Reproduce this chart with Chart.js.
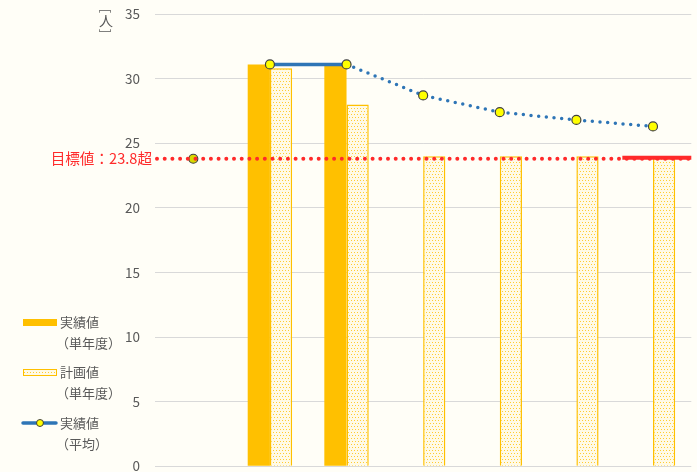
<!DOCTYPE html>
<html>
<head>
<meta charset="utf-8">
<script src="https://cdn.jsdelivr.net/npm/chart.js@4"></script>
<style>
  html, body { margin: 0; padding: 0; background: #FFFEF7; }
  #wrap { width: 697px; height: 472px; position: relative; }
</style>
</head>
<body>
<div id="wrap"><canvas id="chart"></canvas></div>
<script>
const CATEGORIES = ['基準', '1', '2', '3', '4', '5', '6'];
const ACTUAL = [null, 31.1, 31.1, null, null, null, null];
const PLAN = [null, 30.8, 28.0, 24.0, 24.0, 24.0, 24.0];
const AVERAGE = [null, 31.1, 31.1, 28.7, 27.4, 26.8, 26.3];
const BASE_POINT = [23.8, null, null, null, null, null, null];
const TARGET = 23.8;
const TARGET_LABEL = '目標値：23.8超';
const Y_TICKS = [0, 5, 10, 15, 20, 25, 30, 35];

const FONT = '"Noto Sans CJK JP", "Noto Sans", sans-serif';
const GRAY = '#595959';
const ORANGE = '#FFC000';
const BLUE = '#2E75B6';
const RED = '#FF2A2A';

const canvas = document.getElementById('chart');
const ctx = canvas.getContext('2d');

function makePattern(){
  const c = document.createElement('canvas');
  c.width = 6; c.height = 6;
  const g = c.getContext('2d');
  g.fillStyle = '#FFFAE6';
  g.fillRect(0, 0, 6, 6);
  g.fillStyle = '#FFCC33';
  g.fillRect(0, 0, 1, 1);
  g.fillRect(3, 0, 1, 1);
  g.fillRect(1, 3, 1, 1);
  g.fillRect(4, 3, 1, 1);
  return ctx.createPattern(c, 'repeat');
}
const planPattern = makePattern();

// target line + label + unit, drawn over the bars
const targetPlugin = {
  id: 'target',
  afterDatasetsDraw(chart){
    const {ctx, chartArea, scales} = chart;
    const y = scales.y.getPixelForValue(TARGET);
    const step = scales.x.getPixelForValue(1) - scales.x.getPixelForValue(0);
    ctx.save();
    ctx.strokeStyle = RED;
    ctx.lineWidth = 4;
    ctx.lineCap = 'round';
    ctx.setLineDash([0, 7.7]);
    ctx.beginPath();
    ctx.moveTo(chartArea.left + 2, y);
    ctx.lineTo(chartArea.right, y);
    ctx.stroke();
    // solid part for the last year
    ctx.setLineDash([]);
    ctx.lineCap = 'butt';
    ctx.beginPath();
    ctx.moveTo(scales.x.getPixelForValue(6) - step * 0.4, y - 1);
    ctx.lineTo(chartArea.right, y - 1);
    ctx.stroke();
    ctx.restore();

    ctx.save();
    ctx.fillStyle = RED;
    ctx.font = '14.6px ' + FONT;
    ctx.textAlign = 'right';
    ctx.textBaseline = 'middle';
    ctx.fillText(TARGET_LABEL, chartArea.left - 3, y);
    ctx.restore();
  },
  afterDraw(chart){
    const {ctx} = chart;
    // unit label, vertical
    ctx.save();
    ctx.fillStyle = GRAY;
    ctx.font = '14px ' + FONT;
    ctx.textAlign = 'center';
    ctx.textBaseline = 'middle';
    ctx.fillText('人', 106, 21);
    ctx.restore();
    ctx.save();
    ctx.fillStyle = GRAY;
    ctx.font = '13px ' + FONT;
    ctx.textAlign = 'center';
    ctx.textBaseline = 'middle';
    ctx.translate(106, 11);
    ctx.rotate(Math.PI / 2);
    ctx.fillText('[', 0, 0);
    ctx.restore();
    ctx.save();
    ctx.fillStyle = GRAY;
    ctx.font = '13px ' + FONT;
    ctx.textAlign = 'center';
    ctx.textBaseline = 'middle';
    ctx.translate(106, 31);
    ctx.rotate(Math.PI / 2);
    ctx.fillText(']', 0, 0);
    ctx.restore();

    // legend
    ctx.save();
    ctx.font = '13px ' + FONT;
    ctx.textBaseline = 'middle';
    ctx.fillStyle = ORANGE;
    ctx.fillRect(23, 319, 34, 7);
    ctx.fillStyle = planPattern;
    ctx.fillRect(23, 369, 34, 7);
    ctx.strokeStyle = ORANGE;
    ctx.lineWidth = 1;
    ctx.strokeRect(23.5, 369.5, 33, 6);
    ctx.strokeStyle = BLUE;
    ctx.lineWidth = 3.5;
    ctx.lineCap = 'round';
    ctx.beginPath();
    ctx.moveTo(23, 423); ctx.lineTo(56, 423);
    ctx.stroke();
    ctx.beginPath();
    ctx.arc(40, 423, 3.5, 0, Math.PI * 2);
    ctx.fillStyle = '#FFFF00';
    ctx.fill();
    ctx.strokeStyle = '#404040';
    ctx.lineWidth = 1;
    ctx.stroke();
    ctx.fillStyle = GRAY;
    ctx.fillText('実績値', 60, 322);
    ctx.fillText('（単年度）', 56, 343);
    ctx.fillText('計画値', 60, 372);
    ctx.fillText('（単年度）', 56, 393);
    ctx.fillText('実績値', 60, 423);
    ctx.fillText('（平均）', 56, 444);
    ctx.restore();
  }
};

new Chart(canvas, {
  type: 'bar',
  data: {
    labels: CATEGORIES,
    datasets: [
      {
        type: 'line', label: '実績値（平均）', data: AVERAGE, order: 0,
        borderColor: BLUE, borderWidth: 3.5, borderCapStyle: 'round',
        pointRadius: 4.5, pointBackgroundColor: '#FFFF00',
        pointBorderColor: '#404040', pointBorderWidth: 1.2,
        segment: { borderDash: c => c.p0DataIndex >= 2 ? [0, 7.7] : undefined },
        tension: 0
      },
      {
        type: 'line', label: '基準', data: BASE_POINT, order: 0,
        showLine: false, pointRadius: 4.5, pointBackgroundColor: '#D8D800',
        pointBorderColor: '#404040', pointBorderWidth: 1.2
      },
      {
        label: '実績値（単年度）', data: ACTUAL, order: 1,
        backgroundColor: ORANGE, borderWidth: 0,
        categoryPercentage: 0.58, barPercentage: 1
      },
      {
        label: '計画値（単年度）', data: PLAN, order: 1,
        backgroundColor: planPattern, borderColor: ORANGE, borderWidth: 1.5,
        categoryPercentage: 0.58, barPercentage: 1
      }
    ]
  },
  options: {
    responsive: true,
    maintainAspectRatio: false,
    animation: false,
    layout: { padding: { top: 14, bottom: 5, left: 0, right: 0 } },
    plugins: { legend: { display: false }, tooltip: { enabled: false } },
    scales: {
      x: { display: false },
      y: {
        min: 0, max: 35,
        afterBuildTicks: s => { s.ticks = Y_TICKS.map(v => ({value: v})); },
        afterFit: s => { s.width = 155; s.paddingTop = 0; s.paddingBottom = 0; },
        ticks: { padding: 15, color: GRAY, font: { size: 13.5, family: FONT } },
        grid: { color: '#D9D9D9', drawTicks: false },
        border: { display: false }
      }
    }
  },
  plugins: [targetPlugin]
});
</script>
</body>
</html>
